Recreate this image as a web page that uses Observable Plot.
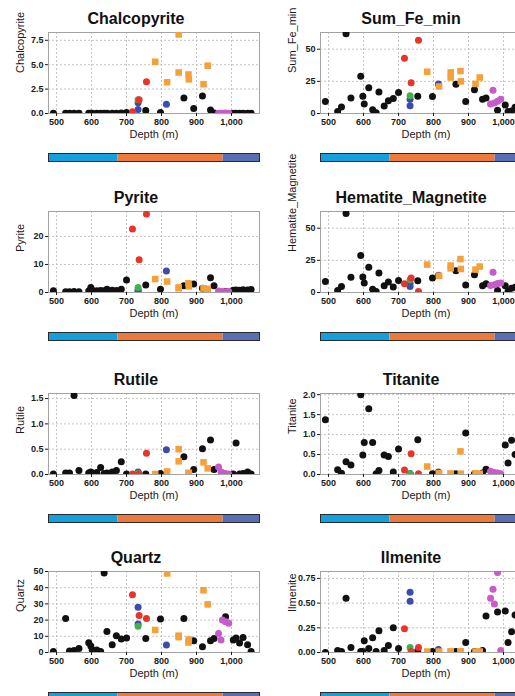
<!DOCTYPE html>
<html>
<head>
<meta charset="utf-8">
<script src="https://cdn.jsdelivr.net/npm/d3@7"></script>
<script src="https://cdn.jsdelivr.net/npm/@observablehq/plot@0.6"></script>
<style>
  body { margin: 0; background: #fff; font-family: "Liberation Sans", Arial, Helvetica, sans-serif; }
  #root { position: relative; width: 515px; height: 696px; overflow: hidden; background: #fff; }
  .title { position: absolute; height: 18px; line-height: 18px; font-size: 16px; font-weight: bold; text-align: center; color: #111; white-space: nowrap; }
  .panel { position: absolute; }
  .panel svg { display: block; }
</style>
</head>
<body>
<div id="root"></div>
<script>
// Sample depths (m) and their group, ordered: host rock, then the coloured groups
const depth = [
  491, 526, 537, 550, 564, 592, 598, 602, 615, 626, 636, 644, 659, 671, 685, 700,
  755, 797, 864, 892, 917, 940, 950, 983, 1005, 1013, 1023, 1033, 1046, 1056,
  717, 736, 757,
  733, 733, 814,
  733,
  782, 816, 849, 849, 877, 878, 920, 932,
  963, 970, 974, 983, 992
];
const group = [
  "k","k","k","k","k","k","k","k","k","k","k","k","k","k","k","k",
  "k","k","k","k","k","k","k","k","k","k","k","k","k","k",
  "r","r","r",
  "b","b","b",
  "g",
  "o","o","o","o","o","o","o","o",
  "m","m","m","m","m"
];

// Mineral abundances, one value per sample above
const chalcopyrite = [
  0.03,0.03,0.03,0.03,0.03,0.03,0.03,0.03,0.03,0.03,0.03,0.03,0.03,0.03,0.05,0.1,
  0.3,0.1,1.6,0.5,1.8,0.35,0.05,0.03,0.03,0.03,0.03,0.03,0.03,0.03,
  0.17,1.42,3.26,
  1.1,0.4,0.94,
  1.4,
  5.3,3.2,8.1,4.2,4.0,3.5,3.0,4.9,
  0.03,0.03,0.03,0.03,0.03
];
const sumFeMin = [
  9.3,1.6,5,62,12,29,13.5,7.4,20,2.9,0.5,16.7,5.8,10,11.6,16.4,
  13.5,13.2,22.7,9.3,18.5,11,12,2.6,6.6,1.5,2,4.8,3,1,
  43,24,57,
  6,11,23,
  13.8,
  32.5,21,32,28,33,25,23,28,
  7.4,18,8.2,9.5,11
];
const pyrite = [
  0.6,0.3,0.3,0.4,0.3,0.5,1.8,0.8,0.6,0.7,0.6,1.2,0.8,0.7,1.2,4.5,
  2.7,1.2,2.4,3.0,1.5,5.3,2.4,0.4,0.8,0.9,0.8,1.0,0.9,1.1,
  22.7,11.7,28,
  0.9,0.5,7.7,
  1.8,
  4.8,3.9,1.8,1.5,3.3,2.2,1.5,1.3,
  0.5,0.3,0.3,0.3,0.4
];
const hematiteMagnetite = [
  8.6,1.6,4.7,61.5,11.8,28.8,12,7.3,19.6,2.6,0.8,15.2,5.2,8.1,4.2,9.4,
  9.2,11.2,17,5.8,13.9,5.2,6.8,1.6,5.2,1,3.4,4,2,1,
  6.8,11.2,0.8,
  4.7,7,13.5,
  10,
  21.7,13,21,18.8,26,18.3,17.8,20.2,
  5.5,15.7,6,7,7.3
];
const rutile = [
  0.01,0.03,0.03,1.56,0.08,0.03,0.05,0.03,0.04,0.14,0.02,0.03,0.05,0.08,0.25,0.01,
  0.01,0.02,0.35,0.1,0.51,0.68,0.1,0.01,0.01,0.62,0.01,0.02,0.05,0.01,
  0.01,0.01,0.42,
  0.05,0.02,0.49,
  0.02,
  0.01,0.06,0.5,0.26,0.03,0.03,0.24,0.12,
  0.15,0.05,0.03,0.01,0.01
];
const titanite = [
  1.37,0.12,0.03,0.32,0.24,2.0,0.49,0.8,1.65,0.8,0.02,0.1,0.49,0.45,0.06,0.64,
  0.87,0.02,0.02,1.04,0.02,0.04,0.13,0.03,0.74,0.29,0.86,0.5,0.4,0.2,
  0.11,0.52,0.02,
  0.02,0.02,0.06,
  0.02,
  0.2,0.03,0.02,0.02,0.58,0.02,0.03,0.02,
  0.08,0.03,0.05,0.03,0.02
];
const quartz = [
  0.6,21,1,1.2,2.5,6,4,1.5,1.5,0.6,49,13,4.8,10.4,8.3,8.9,
  8.7,20.7,21,7.3,3.5,7.3,8.7,22,7.7,9,5.8,9.3,4.8,0.6,
  35.7,22.8,21,
  28,17.6,4.6,
  16.2,
  13.9,48.8,10.4,9.5,6.2,8,38.4,29.7,
  11.8,7.7,20,19,18
];
const ilmenite = [
  0,0.02,0.01,0.55,0.05,0.01,0.01,0.12,0.04,0.15,0.01,0.22,0.02,0.07,0.25,0.04,
  0.02,0.01,0.01,0.1,0.01,0.02,0.37,0.41,0.42,0.1,0.21,0.38,0.1,0.05,
  0.24,0.01,0.05,
  0.61,0.52,0.03,
  0.05,
  0.01,0.01,0.01,0.01,0.01,0.01,0.01,0.01,
  0.55,0.64,0.49,0.81,0.02
];

// Axis ticks
const depthTicks = [500, 600, 700, 800, 900, 1000];
const chalcopyriteTicks = [0, 2.5, 5, 7.5];
const sumFeMinTicks = [0, 25, 50];
const pyriteTicks = [0, 10, 20];
const hematiteMagnetiteTicks = [0, 25, 50];
const rutileTicks = [0, 0.5, 1, 1.5];
const titaniteTicks = [0, 0.5, 1, 1.5, 2];
const quartzTicks = [0, 10, 20, 30, 40, 50];
const ilmeniteTicks = [0, 0.25, 0.5, 0.75];

// Depth zones shown in the strip under each panel
const zoneStart = [477, 675, 976];
const zoneEnd = [675, 976, 1080];
const zoneColor = ["#14a0dc", "#ec7a3c", "#5a6eb4"];

const xLabel = "Depth (m)";
const xDomain = [477, 1080];

const groupColor = { k: "#111111", b: "#3b4cae", g: "#3fb34a", r: "#e8352b", m: "#c95ac9", o: "#f6a03a" };
const drawOrder = ["k", "b", "g", "r", "m", "o"];

const panels = [
  { name: "Chalcopyrite", values: chalcopyrite, ticks: chalcopyriteTicks, yMax: 8.3, fmt: ".1f" },
  { name: "Sum_Fe_min", values: sumFeMin, ticks: sumFeMinTicks, yMax: 63, fmt: "d" },
  { name: "Pyrite", values: pyrite, ticks: pyriteTicks, yMax: 28.9, fmt: "d" },
  { name: "Hematite_Magnetite", values: hematiteMagnetite, ticks: hematiteMagnetiteTicks, yMax: 63, fmt: "d" },
  { name: "Rutile", values: rutile, ticks: rutileTicks, yMax: 1.6, fmt: ".1f" },
  { name: "Titanite", values: titanite, ticks: titaniteTicks, yMax: 2.03, fmt: ".1f" },
  { name: "Quartz", values: quartz, ticks: quartzTicks, yMax: 50, fmt: "d" },
  { name: "Ilmenite", values: ilmenite, ticks: ilmeniteTicks, yMax: 0.82, fmt: ".2f" }
];

const frameTops = [32, 211, 393, 571];
const colLefts = [0, 272];
const colWidths = [272, 278];
const root = document.getElementById("root");
const font = "'Liberation Sans', Arial, Helvetica, sans-serif";

const zones = zoneStart.map((s, i) => ({ start: s, end: zoneEnd[i], color: zoneColor[i] }));

panels.forEach((p, i) => {
  const col = i % 2, row = Math.floor(i / 2);
  const left = colLefts[col], top = frameTops[row];

  const title = document.createElement("div");
  title.className = "title";
  title.style.left = left + "px";
  title.style.width = colWidths[col] + "px";
  title.style.top = (top - 22) + "px";
  title.textContent = p.name;
  root.appendChild(title);

  const data = depth.map((d, j) => ({ depth: d, value: p.values[j], group: group[j] }));

  const chart = Plot.plot({
    width: 275,
    height: 119,
    marginTop: 6,
    marginBottom: 32,
    marginLeft: 48,
    marginRight: 16,
    style: { fontFamily: font, background: "transparent", color: "#1a1a1a", overflow: "visible" },
    x: { domain: xDomain },
    y: { domain: [0, p.yMax] },
    marks: [
      Plot.gridX(depthTicks, { stroke: "#c4c4c4", strokeOpacity: 1, strokeDasharray: "2,2" }),
      Plot.gridY(p.ticks, { stroke: "#c4c4c4", strokeOpacity: 1, strokeDasharray: "2,2" }),
      Plot.frame({ stroke: "#a3a3a3" }),
      Plot.axisX(depthTicks, { tickSize: 3, tickPadding: 2, tickFormat: d3.format(","), fontSize: 9, fontWeight: "bold", label: null }),
      Plot.axisY(p.ticks, { tickSize: 3, tickPadding: 2, tickFormat: d3.format(p.fmt), fontSize: 9, fontWeight: "bold", label: null }),
      Plot.text([xLabel], { frameAnchor: "bottom", dy: 24, fontSize: 11, fill: "#1a1a1a" }),
      Plot.text([p.name], { frameAnchor: "left", rotate: -90, dx: -28, fontSize: 11, fill: "#1a1a1a" }),
      ...drawOrder.map(g => Plot.dot(data.filter(d => d.group === g), {
        x: "depth",
        y: "value",
        r: g === "o" ? 3.7 : 3.5,
        symbol: g === "o" ? "square" : "circle",
        fill: groupColor[g],
        clip: true
      }))
    ]
  });
  chart.classList.add("panel");
  chart.style.left = left + "px";
  chart.style.top = (top - 6) + "px";
  chart.style.position = "absolute";
  root.appendChild(chart);

  const strip = Plot.plot({
    width: 275,
    height: 10,
    marginTop: 1,
    marginBottom: 1,
    marginLeft: 48,
    marginRight: 16,
    style: { background: "transparent", overflow: "visible" },
    x: { domain: xDomain, axis: null },
    color: { type: "identity" },
    marks: [
      Plot.rect(zones, { x1: "start", x2: "end", fill: "color" }),
      Plot.frame({ stroke: "#2a2a2a", strokeWidth: 1 })
    ]
  });
  strip.style.position = "absolute";
  strip.style.left = left + "px";
  strip.style.top = (top + 120) + "px";
  root.appendChild(strip);
});
</script>
</body>
</html>
